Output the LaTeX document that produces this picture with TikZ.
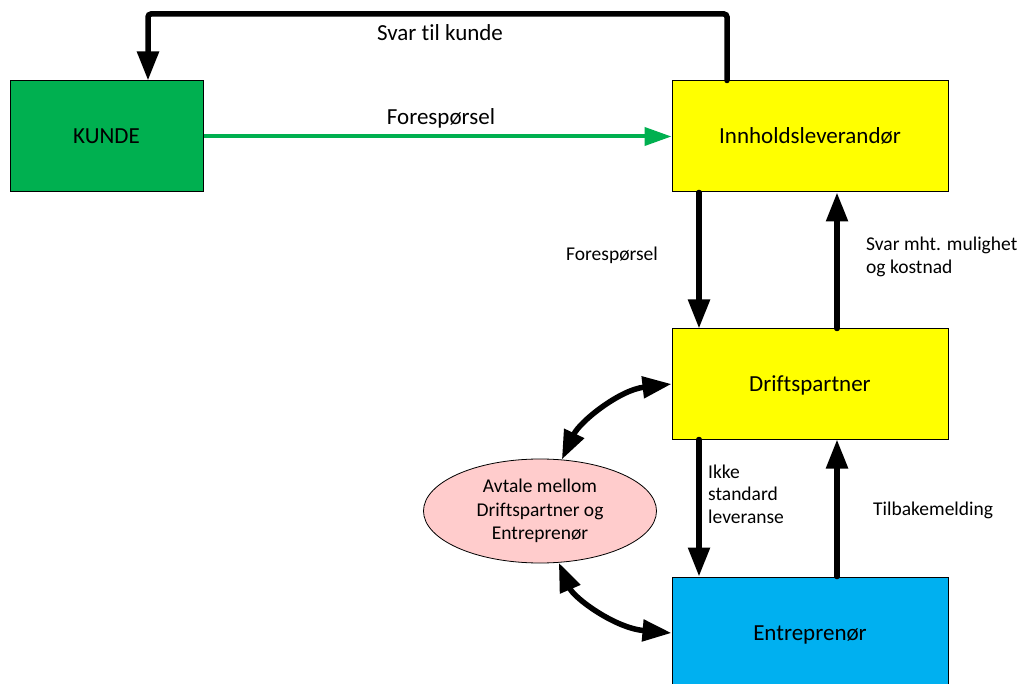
\documentclass[tikz,border=0pt]{standalone}
\usepackage{fontspec}
\setmainfont{Carlito}[Ligatures=NoCommon]
\usetikzlibrary{arrows.meta,shapes.geometric}
\definecolor{kgreen}{HTML}{00B050}
\definecolor{kyellow}{HTML}{FFFF00}
\definecolor{kblue}{HTML}{00B0F0}
\definecolor{kpink}{HTML}{FFCCCC}
\tikzset{
  box/.style={draw=black, line width=1pt, rectangle, minimum width=276pt, minimum height=111pt,
    inner sep=0pt, font=\fontsize{23}{28}\selectfont, text height=15pt, text depth=0pt},
  blk/.style={line width=5.5pt, line cap=round, -{Triangle[length=29pt,width=21pt]}},
  blkboth/.style={line width=5.5pt, {Triangle[length=29pt,width=21pt]}-{Triangle[length=29pt,width=21pt]}},
  grn/.style={draw=kgreen, line width=4pt, -{Triangle[length=27pt,width=18pt]}},
  lbl/.style={font=\fontsize{23}{28}\selectfont, inner sep=0pt, anchor=base},
  small/.style={font=\fontsize{19.5}{22.7}\selectfont, inner sep=0pt},
  agree/.style={draw=black, line width=0.8pt, ellipse, fill=kpink, minimum width=233pt,
    minimum height=104pt, inner sep=0pt, align=center, font=\fontsize{19.5}{23.5}\selectfont},
}
\begin{document}
\begin{tikzpicture}[x=1pt,y=-1pt]
\useasboundingbox (0,0) rectangle (1020,684);
% boxes
\node[box, fill=kgreen, minimum width=193pt] (kunde) at (106.5,136.5) {KUNDE};
\node[box, fill=kyellow] (inn) at (810,136.5) {Innholdsleverandør};
\node[box, fill=kyellow, minimum height=110pt] (drift) at (810,384) {Driftspartner};
\node[box, fill=kblue, minimum height=112pt] (entre) at (810,633) {Entreprenør};
\node[agree] (ell) at (540,511) {Avtale mellom\\Driftspartner og\\Entreprenør};
% helper coordinates
\coordinate (tr) at (727,14);
\coordinate (tl) at (148,14);
\coordinate (xa) at (699,0);
\coordinate (xb) at (837,0);
% connectors
\draw[blk, rounded corners=3pt] (tr |- inn.north) -- (tr) -- (tl) -- (tl |- kunde.north);
\draw[grn] (kunde.east) -- (inn.west);
\draw[blk] (xa |- inn.south) -- (xa |- drift.north);
\draw[blk] (xb |- drift.north) -- (xb |- inn.south);
\draw[blk] (xa |- drift.south) -- (xa |- entre.north);
\draw[blk] (xb |- entre.north) -- (xb |- drift.south);
\draw[blkboth] (ell.67) .. controls +(18,-38) and +(-52,6) .. (drift.west);
\draw[blkboth] (ell.290) .. controls +(15,35) and +(-57,-5) .. (entre.west);
% labels
\node[lbl] (l1) at (440,41) {Svar til kunde};
\node[lbl] (l2) at (441,125) {Forespørsel};
\node[small, anchor=base] (l3) at (612,261) {Forespørsel};
\node[small, anchor=west, align=left] (l4) at (866,257) {Svar mht. mulighet\\og kostnad};
\node[small, anchor=west, align=left] (l5) at (708,494) {Ikke\\standard\\leveranse};
\node[small, anchor=base west] (l6) at (873,515) {Tilbakemelding};
\end{tikzpicture}
\end{document}
